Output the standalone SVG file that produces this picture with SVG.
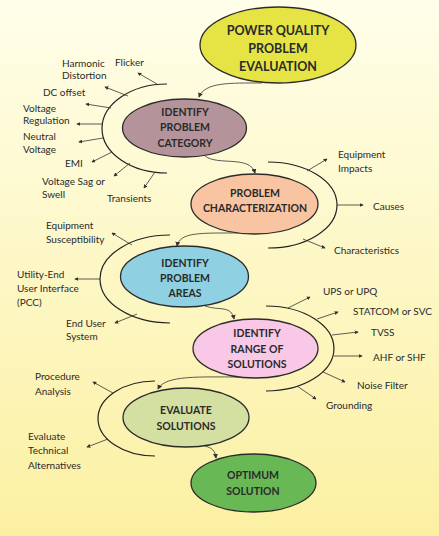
<svg xmlns="http://www.w3.org/2000/svg" width="439" height="536" viewBox="0 0 439 536">
<defs>
<linearGradient id="bg" x1="0" y1="0" x2="0" y2="1">
<stop offset="0" stop-color="#FFFEE9"/>
<stop offset="1" stop-color="#FBF0A2"/>
</linearGradient>
<marker id="tip" viewBox="0 0 6 6" refX="5" refY="3" markerWidth="4" markerHeight="4" markerUnits="userSpaceOnUse" orient="auto">
<path d="M0,0 L6,3 L0,6 z" fill="#333"/>
</marker>
<marker id="arr" viewBox="0 0 6 6" refX="5" refY="3" markerWidth="5" markerHeight="5" markerUnits="userSpaceOnUse" orient="auto">
<path d="M0,0 L6,3 L0,6 z" fill="#333"/>
</marker>
</defs>
<style>
.node ellipse{stroke:#2b2b2b;stroke-width:1.3}
.nt{font-family:Lato,"Open Sans",sans-serif;font-weight:bold;font-size:10.5px;fill:#2a2a2a;text-anchor:middle}
.lbl{font-family:Lato,"Open Sans",sans-serif;font-size:10px;fill:#2a2a2a}
.arc{fill:none;stroke:#222;stroke-width:1.2}
.sp{fill:none;stroke:#333;stroke-width:0.8;marker-end:url(#tip)}
.cn{fill:none;stroke:#333;stroke-width:0.8;marker-end:url(#arr)}
</style>
<rect width="439" height="536" fill="url(#bg)"/>

<g id="connectors">
<path class="cn" d="M262,83 C230,83 205,82 199,97"/>
<path class="cn" d="M205,156 C218,166 250,155 255,173"/>
<path class="cn" d="M240,233 C200,233 180,232 177,246"/>
<path class="cn" d="M205,306 C220,311 231,305 234,319"/>
<path class="cn" d="M240,377 C200,377 165,375 158,389"/>
<path class="cn" d="M205,446 C212,448 215,450 216,458"/>
</g>

<g id="arcs">
<path class="arc" d="M167,84 A65 44.5 0 0 0 167,173"/>
<path class="arc" d="M268,162 A69 43 0 0 1 268,248"/>
<path class="arc" d="M170,235 A70 44 0 0 0 170,323"/>
<path class="arc" d="M266,306 A68 42.5 0 0 1 266,391"/>
<path class="arc" d="M155,381 A57 37.5 0 0 0 155,456"/>
</g>

<g id="spokes">
<path class="sp" d="M157,84 L138,73"/>
<path class="sp" d="M128,96 L105,87"/>
<path class="sp" d="M111,108 L86,104"/>
<path class="sp" d="M103,124 L77,124"/>
<path class="sp" d="M103,138 L79,142"/>
<path class="sp" d="M112,152 L92,162"/>
<path class="sp" d="M130,163 L114,176"/>
<path class="sp" d="M155,172 L144,188"/>
<path class="sp" d="M307,171 L327,159"/>
<path class="sp" d="M337,205 L363,205"/>
<path class="sp" d="M303,239 L325,248"/>
<path class="sp" d="M132,245 L112,233"/>
<path class="sp" d="M100,279 L75,279"/>
<path class="sp" d="M137,314 L115,323"/>
<path class="sp" d="M288,308 L310,297"/>
<path class="sp" d="M317,319 L338,312"/>
<path class="sp" d="M332,335 L358,332"/>
<path class="sp" d="M334,356 L362,356"/>
<path class="sp" d="M323,372 L345,382"/>
<path class="sp" d="M297,386 L316,399"/>
<path class="sp" d="M113,393 L93,382"/>
<path class="sp" d="M108,439 L87,447"/>
</g>

<g id="labels">
<text class="lbl" x="115" y="65.5">Flicker</text>
<text class="lbl" x="62" y="66.5">Harmonic</text>
<text class="lbl" x="62" y="78.5">Distortion</text>
<text class="lbl" x="43" y="95.5">DC offset</text>
<text class="lbl" x="23" y="111.5">Voltage</text>
<text class="lbl" x="23" y="123.5">Regulation</text>
<text class="lbl" x="23" y="139.5">Neutral</text>
<text class="lbl" x="23" y="152.5">Voltage</text>
<text class="lbl" x="65" y="166.5">EMI</text>
<text class="lbl" x="42" y="184.5">Voltage Sag or</text>
<text class="lbl" x="42" y="197.5">Swell</text>
<text class="lbl" x="107" y="201.5">Transients</text>
<text class="lbl" x="338" y="157.5">Equipment</text>
<text class="lbl" x="338" y="171.5">Impacts</text>
<text class="lbl" x="373" y="209.5">Causes</text>
<text class="lbl" x="334" y="253.5">Characteristics</text>
<text class="lbl" x="46" y="228.5">Equipment</text>
<text class="lbl" x="46" y="242.5">Susceptibility</text>
<text class="lbl" x="17" y="277.5">Utility-End</text>
<text class="lbl" x="17" y="291.5">User Interface</text>
<text class="lbl" x="17" y="305.5">(PCC)</text>
<text class="lbl" x="66" y="326.5">End User</text>
<text class="lbl" x="66" y="339.5">System</text>
<text class="lbl" x="323" y="294.5">UPS or UPQ</text>
<text class="lbl" x="353" y="314.5">STATCOM or SVC</text>
<text class="lbl" x="371" y="335.5">TVSS</text>
<text class="lbl" x="373" y="360.5">AHF or SHF</text>
<text class="lbl" x="357" y="388.5">Noise Filter</text>
<text class="lbl" x="326" y="408.5">Grounding</text>
<text class="lbl" x="35" y="379.5">Procedure</text>
<text class="lbl" x="35" y="394.5">Analysis</text>
<text class="lbl" x="28" y="439.5">Evaluate</text>
<text class="lbl" x="28" y="453.5">Technical</text>
<text class="lbl" x="28" y="468.5">Alternatives</text>
</g>

<g id="n1" class="node">
<ellipse cx="278" cy="45" rx="78" ry="38" fill="#E6E444"/>
<text class="nt" x="278" y="34.5" style="font-size:12.5px">POWER QUALITY</text>
<text class="nt" x="278" y="52.5" style="font-size:12.5px">PROBLEM</text>
<text class="nt" x="278" y="70.5" style="font-size:12.5px">EVALUATION</text>
</g>
<g id="n2" class="node">
<ellipse cx="184.5" cy="128" rx="62" ry="29" fill="#B4949A"/>
<text class="nt" x="185" y="116">IDENTIFY</text>
<text class="nt" x="185" y="131">PROBLEM</text>
<text class="nt" x="185" y="147">CATEGORY</text>
</g>
<g id="n3" class="node">
<ellipse cx="254.5" cy="204" rx="63.5" ry="30" fill="#F8C4A2"/>
<text class="nt" x="255" y="197">PROBLEM</text>
<text class="nt" x="255" y="212">CHARACTERIZATION</text>
</g>
<g id="n4" class="node">
<ellipse cx="184.5" cy="276.5" rx="64" ry="30.5" fill="#8FD0E2"/>
<text class="nt" x="185" y="267">IDENTIFY</text>
<text class="nt" x="185" y="282">PROBLEM</text>
<text class="nt" x="185" y="297">AREAS</text>
</g>
<g id="n5" class="node">
<ellipse cx="255.5" cy="348.5" rx="62.5" ry="29.5" fill="#F8C8E6"/>
<text class="nt" x="257" y="337">IDENTIFY</text>
<text class="nt" x="257" y="353">RANGE OF</text>
<text class="nt" x="257" y="368">SOLUTIONS</text>
</g>
<g id="n6" class="node">
<ellipse cx="186" cy="417.5" rx="63" ry="29.5" fill="#D3E0A2"/>
<text class="nt" x="186" y="414">EVALUATE</text>
<text class="nt" x="186" y="430">SOLUTIONS</text>
</g>
<g id="n7" class="node">
<ellipse cx="253.5" cy="483" rx="62.5" ry="29" fill="#69B856"/>
<text class="nt" x="253" y="479">OPTIMUM</text>
<text class="nt" x="253" y="495">SOLUTION</text>
</g>
</svg>
